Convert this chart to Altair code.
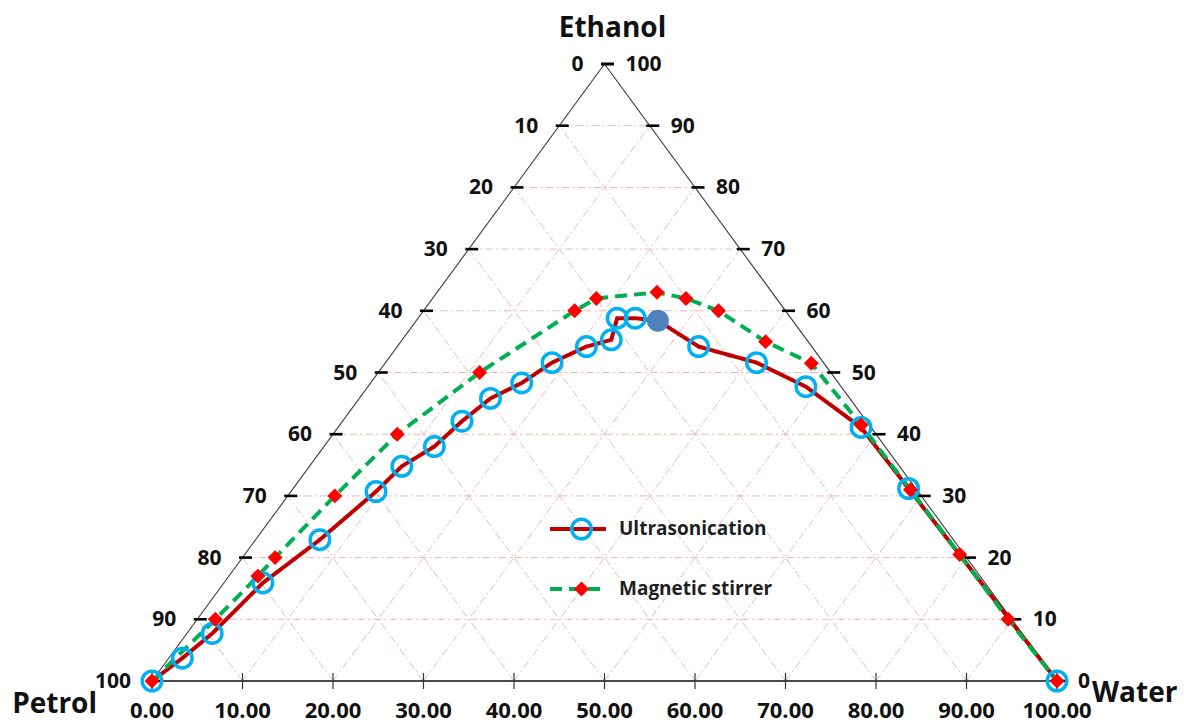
import altair as alt
import pandas as pd

# Ternary phase diagram: petrol / ethanol / water (mass %).
# Each curve point is given by its ethanol and water content; petrol is the balance.
methods = ["Ultrasonication", "Magnetic stirrer"]

ultra_ethanol = [0.0, 3.7, 7.7, 15.9, 22.9, 30.7, 34.8, 38.0, 42.1, 45.8, 48.3, 51.6,
                 54.2, 55.3, 58.8, 58.8, 58.4, 54.2, 51.6, 47.7, 41.1, 31.2, 0.0]
ultra_water = [0.0, 1.5, 2.8, 4.3, 7.1, 9.4, 10.2, 12.2, 13.2, 14.5, 16.7, 18.4,
               20.9, 23.1, 22.0, 24.0, 26.7, 33.3, 41.0, 48.4, 57.8, 68.0, 100.0]
ultra_filled = [16]  # marker drawn solid

stir_ethanol = [0.0, 10.0, 17.0, 20.0, 30.0, 40.0, 50.0, 60.0, 62.0, 63.0, 62.0, 60.0,
                55.0, 51.5, 41.5, 31.0, 20.5, 10.0, 0.0]
stir_water = [0.0, 2.0, 3.2, 3.6, 5.2, 7.1, 11.2, 16.7, 18.1, 24.3, 28.0, 32.6,
              40.3, 47.1, 57.6, 68.3, 79.0, 89.6, 100.0]

tick_values = [0, 10, 20, 30, 40, 50, 60, 70, 80, 90, 100]
grid_values = [10, 20, 30, 40, 50, 60, 70, 80, 90]
corners = ["Petrol", "Water", "Ethanol"]

FONT = "Open Sans"
INK = "#111111"


def to_xy(ethanol, water):
    # Cartesian position inside the triangle (Petrol at 0, Water at 100, Ethanol on top)
    return water + ethanol / 2.0, ethanol


rows = []
for name, eth, wat in [(methods[0], ultra_ethanol, ultra_water),
                       (methods[1], stir_ethanol, stir_water)]:
    for i, (e, w) in enumerate(zip(eth, wat)):
        x, y = to_xy(e, w)
        rows.append({"method": name, "idx": i, "ethanol": e, "water": w,
                     "petrol": round(100 - e - w, 1), "x": x, "y": y,
                     "solid": name == methods[0] and i in ultra_filled})
curves = pd.DataFrame(rows)

# grid: constant-ethanol lines and the two families parallel to the sides
seg = []
for k in grid_values:
    seg.append({"x": k / 2, "y": k, "x2": 100 - k / 2, "y2": k})
    seg.append({"x": k, "y": 0, "x2": 50 + k / 2, "y2": 100 - k})
    seg.append({"x": k, "y": 0, "x2": k / 2, "y2": k})
grid_df = pd.DataFrame(seg)

sides_df = pd.DataFrame([
    {"x": 0, "y": 0, "x2": 50, "y2": 100},
    {"x": 50, "y": 100, "x2": 100, "y2": 0},
])
base_df = pd.DataFrame([{"x": 0, "y": 0, "x2": 100, "y2": 0}])

bottom_df = pd.DataFrame({"x": tick_values, "y": [0] * len(tick_values),
                          "label": [f"{v:.2f}" for v in tick_values]})
left_df = pd.DataFrame({"x": [v / 2 for v in tick_values], "y": tick_values,
                        "label": [str(100 - v) for v in tick_values]})
right_df = pd.DataFrame({"x": [100 - v / 2 for v in tick_values], "y": tick_values,
                         "label": [str(v) for v in tick_values]})

xs = alt.Scale(domain=[0, 100], nice=False, zero=False)
ys = alt.Scale(domain=[0, 100], nice=False, zero=False)
X = alt.X("x:Q", scale=xs, axis=None)
Y = alt.Y("y:Q", scale=ys, axis=None)

grid = alt.Chart(grid_df).mark_rule(color="#EBB9B9", strokeWidth=1,
                                    strokeDash=[8, 3, 2, 3]).encode(
    X, Y, x2="x2:Q", y2="y2:Q")
sides = alt.Chart(sides_df).mark_rule(color="#3A3A3A", strokeWidth=1.1).encode(
    X, Y, x2="x2:Q", y2="y2:Q")
base = alt.Chart(base_df).mark_rule(color="#4A4A4A", strokeWidth=2).encode(
    X, Y, x2="x2:Q", y2="y2:Q")

bottom_ticks = alt.Chart(bottom_df).mark_point(
    shape="M0,-1L0,1", size=256, stroke="#333333", strokeWidth=1.2, opacity=1
).encode(X, Y)
left_ticks = alt.Chart(left_df).mark_point(
    shape="stroke", size=169, stroke="#000000", strokeWidth=2.6, opacity=1, xOffset=3
).encode(X, Y)
right_ticks = alt.Chart(right_df).mark_point(
    shape="stroke", size=169, stroke="#000000", strokeWidth=2.6, opacity=1, xOffset=3
).encode(X, Y)

legend_common = dict(orient="none", title=None, labelFont=FONT, labelFontSize=19,
                     labelFontWeight="bold", labelColor="#1f1f1f", rowPadding=32,
                     clipHeight=28, padding=0, labelOffset=11, legendY=451)

line_legend = alt.Legend(legendX=396, symbolType="stroke", symbolSize=3136,
                         symbolStrokeWidth=4, **legend_common)
# marker symbols sit on top of the line symbols; their labels are left blank
point_legend = alt.Legend(legendX=418, symbolStrokeWidth=3.5, labelExpr="''",
                          **legend_common)

lines = alt.Chart(curves).mark_line(strokeWidth=4).encode(
    X, Y,
    order="idx:Q",
    stroke=alt.Stroke("method:N", scale=alt.Scale(domain=methods, range=["#C00000", "#00B050"]),
                      legend=line_legend),
    strokeDash=alt.StrokeDash("method:N", scale=alt.Scale(domain=methods, range=[[1, 0], [12, 7]]),
                              legend=line_legend),
)

markers = alt.Chart(curves).transform_filter("!datum.solid").mark_point(
    filled=True, opacity=1, strokeWidth=3.5
).encode(
    X, Y,
    shape=alt.Shape("method:N", scale=alt.Scale(domain=methods, range=["circle", "diamond"]),
                    legend=point_legend),
    fill=alt.Fill("method:N", scale=alt.Scale(domain=methods, range=["transparent", "#FF0000"]),
                  legend=point_legend),
    stroke=alt.Stroke("method:N", scale=alt.Scale(domain=methods, range=["#00B0F0", "#FF0000"]),
                      legend=point_legend),
    size=alt.Size("method:N", scale=alt.Scale(domain=methods, range=[380, 100]),
                  legend=point_legend),
)

solid = alt.Chart(curves).transform_filter("datum.solid").mark_point(
    filled=True, opacity=1, size=484, color="#4F81BD", strokeWidth=0
).encode(X, Y)

bottom_labels = alt.Chart(bottom_df).mark_text(
    dy=30, fontSize=22, font=FONT, fontWeight="bold", color=INK
).encode(X, Y, text="label:N")
left_labels = alt.Chart(left_df).mark_text(
    align="right", dx=-21, dy=1, fontSize=21, font=FONT, fontWeight="bold", color=INK
).encode(X, Y, text="label:N")
right_labels = alt.Chart(right_df).mark_text(
    align="left", dx=21, dy=1, fontSize=21, font=FONT, fontWeight="bold", color=INK
).encode(X, Y, text="label:N")

corner_df = pd.DataFrame({"x": [0, 100, 50], "y": [0, 0, 100], "label": corners})
petrol_lbl = alt.Chart(corner_df).transform_filter("datum.label == 'Petrol'").mark_text(
    align="right", baseline="alphabetic", dx=-55, dy=32, fontSize=28, font=FONT,
    fontWeight="bold", color=INK).encode(X, Y, text="label:N")
water_lbl = alt.Chart(corner_df).transform_filter("datum.label == 'Water'").mark_text(
    align="left", baseline="alphabetic", dx=35, dy=21, fontSize=28, font=FONT,
    fontWeight="bold", color=INK).encode(X, Y, text="label:N")
ethanol_lbl = alt.Chart(corner_df).transform_filter("datum.label == 'Ethanol'").mark_text(
    align="center", baseline="alphabetic", dx=8, dy=-27, fontSize=28, font=FONT,
    fontWeight="bold", color=INK).encode(X, Y, text="label:N")

chart = alt.layer(
    grid, sides, base, bottom_ticks, left_ticks, right_ticks,
    lines, markers, solid,
    bottom_labels, left_labels, right_labels, petrol_lbl, water_lbl, ethanol_lbl,
).resolve_scale(
    stroke="independent", strokeDash="independent", fill="independent",
    shape="independent", size="independent",
).properties(
    width=905, height=617,
    autosize=alt.AutoSizeParams(type="none"),
    padding={"left": 152, "top": 64, "right": 127, "bottom": 45},
    background="white",
).configure_view(strokeWidth=0, stroke="transparent")

chart.save("out.html", embed_options={"renderer": "svg", "actions": False})
